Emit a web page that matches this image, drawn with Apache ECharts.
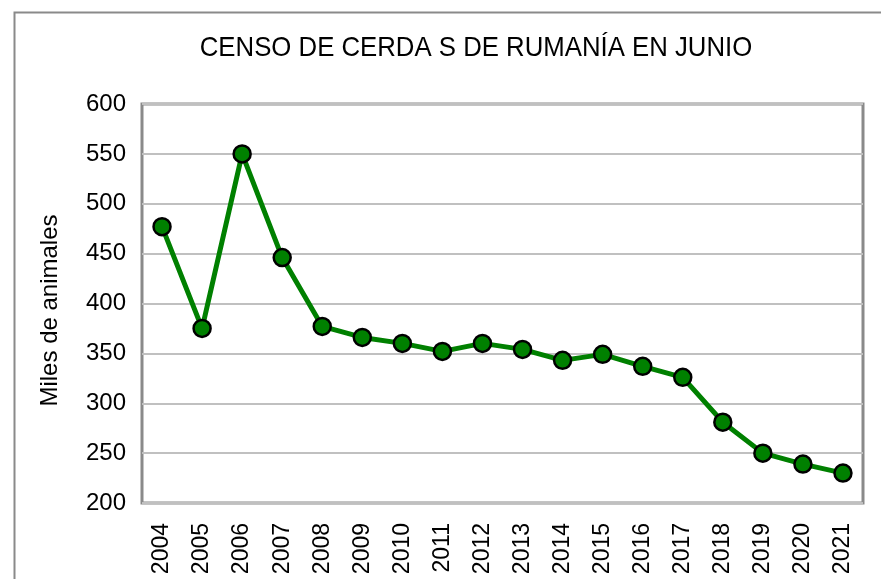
<!DOCTYPE html>
<html>
<head>
<meta charset="utf-8">
<script src="https://cdn.jsdelivr.net/npm/echarts@6/dist/echarts.min.js"></script>
<style>
  html, body { margin: 0; padding: 0; background: #fff; }
  #chart { width: 881px; height: 579px; }
</style>
</head>
<body>
<div id="chart"></div>
<script>
// años del censo
var years = ['2004', '2005', '2006', '2007', '2008', '2009', '2010', '2011', '2012',
  '2013', '2014', '2015', '2016', '2017', '2018', '2019', '2020', '2021']
// miles de cerdas
var cerdas = [477, 375, 550, 446, 377, 366, 360, 352, 360,
  354, 343, 349, 337, 326, 281, 250, 239, 230]

var titulo = 'CENSO DE CERDA S DE RUMANÍA EN JUNIO'

var chart = echarts.init(document.getElementById('chart'))
var option = {
  animation: false,
  backgroundColor: '#fff',
  textStyle: { fontFamily: 'Liberation Sans, Arial, sans-serif' },
  graphic: [
    {
      type: 'rect',
      left: 12,
      top: 10,
      shape: { width: 880, height: 600 },
      style: { fill: 'none', stroke: '#8a8a8a', lineWidth: 2 },
      z: -1
    },
    {
      // título algo estrecho, como en el original
      type: 'text',
      x: 476,
      y: 48,
      scaleX: 0.92,
      style: {
        text: titulo,
        font: '28px "Liberation Sans", Arial, sans-serif',
        fill: '#000',
        textAlign: 'center',
        textVerticalAlign: 'middle'
      }
    }
  ],
  grid: {
    left: 142,
    right: 18,
    top: 104,
    bottom: 76,
    show: true,
    borderColor: '#8a8a8a',
    borderWidth: 3
  },
  xAxis: {
    type: 'category',
    data: years,
    boundaryGap: true,
    axisLine: { show: false },
    axisTick: { show: false },
    axisLabel: {
      rotate: 90,
      margin: 20,
      fontSize: 23,
      color: '#000',
      interval: 0
    }
  },
  yAxis: {
    type: 'value',
    min: 200,
    max: 600,
    interval: 50,
    name: 'Miles de animales',
    nameLocation: 'middle',
    nameGap: 80,
    nameTextStyle: { fontSize: 24, color: '#000', padding: [0, 14, 0, 0] },
    axisLine: { show: false },
    axisTick: { show: false },
    axisLabel: { fontSize: 24, color: '#000', margin: 16 },
    splitLine: { lineStyle: { color: '#c0c0c0', width: 2 } }
  },
  series: [
    {
      name: 'Cerdas',
      type: 'line',
      data: cerdas,
      symbol: 'circle',
      symbolSize: 17,
      lineStyle: { color: '#008000', width: 5 },
      itemStyle: { color: '#008000', borderColor: '#000', borderWidth: 2.5 }
    }
  ]
}
chart.setOption(option)
</script>
</body>
</html>
